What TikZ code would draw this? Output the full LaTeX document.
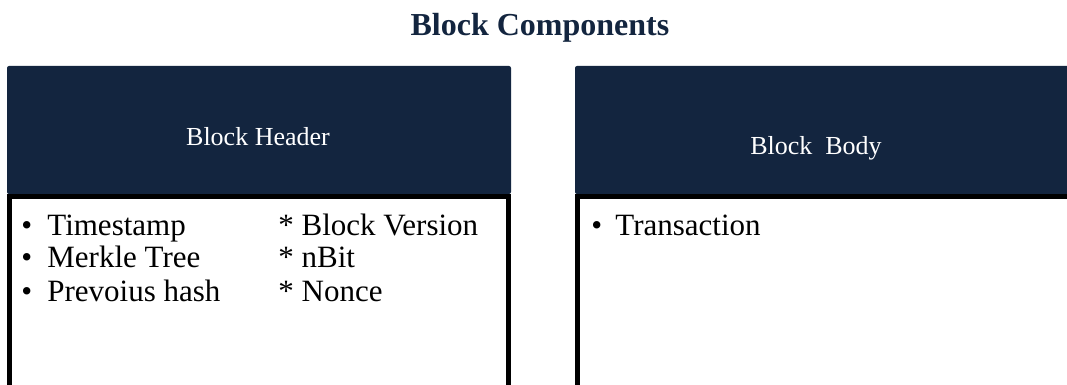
\documentclass[tikz,border=0pt]{standalone}
\usepackage{fontspec}
\setmainfont{Liberation Serif}
\definecolor{navy}{HTML}{13253F}
\tikzset{
  header/.style={fill=navy, rounded corners=1pt},
  hdrtext/.style={text=white, inner sep=0pt, font=\fontsize{13}{15}\selectfont},
  item/.style={anchor=base west, inner sep=0pt, font=\fontsize{15.5}{18}\selectfont},
  frame/.style={line width=2.5pt, line cap=butt},
}

\begin{document}
\begin{tikzpicture}[x=0.5pt,y=-0.5pt]
  %%%%% START %%%%%
  \def\htop{66}
  \def\hbot{194}
  \def\lstart{7}
  \def\lend{511}
  \def\rstart{575}
  \def\rowsep{33}

  \useasboundingbox (0,0) rectangle (1067,385);
  \clip (0,0) rectangle (1067,385);

  \node[anchor=base, inner sep=0pt, text=navy,
        font=\bfseries\fontsize{16}{19}\selectfont] (title) at (540,36) {Block Components};

  % headers
  \fill[header] (\lstart,\hbot) |- (\lend,\htop) -- (\lend,\hbot) -- cycle;
  \fill[header] (\rstart,\hbot) |- (1080,\htop) -- (1080,\hbot) -- cycle;
  \node[hdrtext] (hdrL) at (258,137) {Block Header};
  \node[hdrtext] (hdrR) at (816,148) {Block\ \ Body};

  % body frames
  \draw[frame] (\lstart+2.5,400) |- (\lend-2.5,\hbot+2.5) -- (\lend-2.5,400);
  \draw[frame] (\rstart+2.5,400) |- (1080,\hbot+2.5);

  % header fields
  \foreach \left/\right [count=\i] in {Timestamp/Block Version, Merkle Tree/nBit, Prevoius hash/Nonce} {
    \node[item] (bul\i) at (21,202+\rowsep*\i) {•};
    \node[item] (fld\i) at (47,202+\rowsep*\i) {\left};
    \node[item] (ext\i) at (278,202+\rowsep*\i) {* \right};
  }

  % body fields
  \node[item] (bulT) at (591,235) {•};
  \node[item] (txn) at (615,235) {Transaction};
  %%%%% END %%%%%
\end{tikzpicture}
\end{document}
